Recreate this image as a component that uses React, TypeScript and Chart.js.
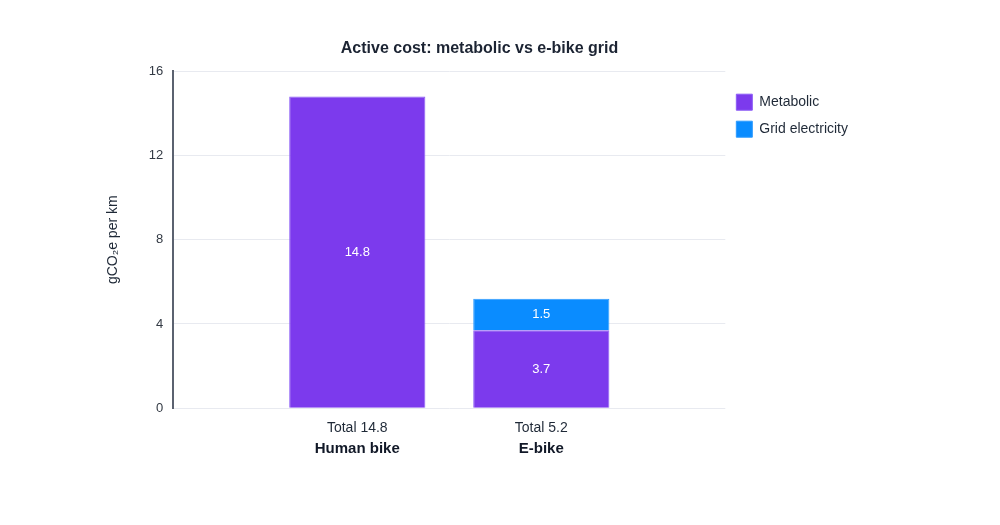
import React, { useEffect, useRef } from "react";
import { Chart, registerables } from "chart.js";

Chart.register(...registerables);

const categories = ["", "Human bike", "E-bike", ""];
const totalLabels = ["", "Total 14.8", "Total 5.2", ""];
const metabolic = [null, 14.8, 3.7, null];
const grid = [null, null, 1.5, null];
const yTicks = [0, 4, 8, 12, 16];

const FONT = "'Helvetica Neue', Helvetica, Arial, 'Liberation Sans', sans-serif";

const valueLabels = {
  id: "valueLabels",
  afterDatasetsDraw(chart: any) {
    const ctx = chart.ctx;
    ctx.save();
    ctx.fillStyle = "#ffffff";
    ctx.font = `13px ${FONT}`;
    ctx.textAlign = "center";
    ctx.textBaseline = "middle";
    chart.data.datasets.forEach((ds: any, di: number) => {
      const meta = chart.getDatasetMeta(di);
      meta.data.forEach((el: any, i: number) => {
        const v = ds.data[i];
        if (v === null || v === undefined) return;
        ctx.fillText(String(v), el.x, (el.y + el.base) / 2);
      });
    });
    ctx.restore();
  },
};

export default function App() {
  const ref = useRef<HTMLCanvasElement | null>(null);
  useEffect(() => {
    if (!ref.current) return;
    const chart = new Chart(ref.current, {
      type: "bar",
      data: {
        labels: categories,
        datasets: [
          {
            label: "Metabolic",
            data: metabolic as any,
            backgroundColor: "#7c3aed",
            borderColor: "#8b5cf6",
            borderWidth: 1,
            categoryPercentage: 0.74,
            barPercentage: 1,
          },
          {
            label: "Grid electricity",
            data: grid as any,
            backgroundColor: "#0a8cff",
            borderColor: "#2e9bff",
            borderWidth: 1,
            categoryPercentage: 0.74,
            barPercentage: 1,
          },
        ],
      },
      options: {
        animation: false,
        responsive: true,
        maintainAspectRatio: false,
        layout: { padding: { left: 101, right: 142, top: 0, bottom: 64 } },
        plugins: {
          title: {
            display: true,
            text: "Active cost: metabolic vs e-bike grid",
            fullSize: true,
            color: "#1c2433",
            font: { family: FONT, size: 16, weight: "bold" },
            padding: { top: 39, bottom: 13 },
          },
          legend: {
            position: "right",
            align: "start",
            fullSize: false,
            title: { display: true, text: "", padding: 0, font: { size: 10 } },
            labels: {
              boxWidth: 16,
              boxHeight: 16,
              padding: 11,
              color: "#1f2937",
              font: { family: FONT, size: 14 },
            },
          },
          tooltip: { enabled: false },
        },
        scales: {
          x: {
            type: "category",
            stacked: true,
            offset: false,
            grid: { display: false, drawTicks: false },
            border: { display: false },
            afterFit: (scale: any) => {
              scale.height = 28.8;
            },
            ticks: {
              padding: 12,
              color: "#1f2937",
              font: { family: FONT, size: 14 },
              autoSkip: false,
              maxRotation: 0,
              callback: (_v: any, i: number) => totalLabels[i],
            },
          },
          x2: {
            type: "category",
            position: "bottom",
            labels: categories,
            offset: false,
            grid: { display: false, drawTicks: false },
            border: { display: false },
            ticks: {
              padding: 3,
              color: "#111827",
              font: { family: FONT, size: 15, weight: "bold" },
              autoSkip: false,
              maxRotation: 0,
              callback: (_v: any, i: number) => categories[i],
            },
          },
          y: {
            stacked: true,
            min: 0,
            max: 16,
            afterBuildTicks: (axis: any) => {
              axis.ticks = yTicks.map((v) => ({ value: v }));
            },
            grid: { color: "#e8eaf0", drawTicks: false },
            border: { display: true, color: "#5b6270", width: 2 },
            ticks: {
              padding: 10,
              color: "#333a44",
              font: { family: FONT, size: 13 },
            },
            title: {
              display: true,
              text: "gCO₂e per km",
              color: "#1f2937",
              font: { family: FONT, size: 14 },
              padding: { top: 4, bottom: 17 },
            },
          },
        },
      },
      plugins: [valueLabels],
    });
    return () => chart.destroy();
  }, []);
  return (
    <div style={{ position: "absolute", left: 0, top: 0, width: 1000, height: 525, background: "#fff" }}>
      <canvas ref={ref} />
    </div>
  );
}
